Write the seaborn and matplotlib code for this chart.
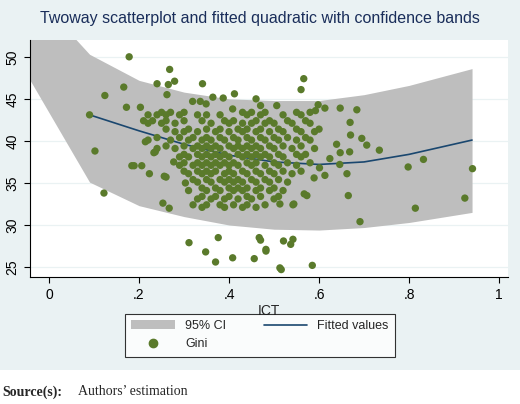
import numpy as np
import pandas as pd
import matplotlib
matplotlib.use("Agg")
import matplotlib.pyplot as plt
import seaborn as sns
from matplotlib.patches import Patch
from matplotlib.lines import Line2D

# confidence band and fitted line
band_x = [-0.042, 0.09, 0.2, 0.3, 0.4, 0.5, 0.6, 0.7, 0.8, 0.94]
band_lo = [47.2, 35.1, 32.3, 31.0, 30.0, 29.5, 29.4, 29.7, 30.3, 31.5]
band_hi = [58.0, 50.3, 47.2, 45.8, 45.0, 44.8, 44.8, 45.5, 46.6, 48.6]
fit_x = [0.09, 0.2, 0.3, 0.4, 0.5, 0.6, 0.7, 0.8, 0.94]
fit_y = [43.1, 41.2, 39.6, 38.3, 37.5, 37.2, 37.5, 38.4, 40.1]

# sparse scatter points (ICT, Gini)
sparse_x = [0.178, 0.268, 0.279, 0.240, 0.265, 0.341, 0.166, 0.124, 0.412, 0.172, 0.090, 0.102,
            0.122, 0.184, 0.189, 0.206, 0.223, 0.256, 0.260, 0.253, 0.267, 0.311, 0.376, 0.348,
            0.370, 0.408, 0.456, 0.467, 0.482, 0.513, 0.303, 0.277, 0.233, 0.236, 0.214, 0.203,
            0.319, 0.336, 0.349, 0.364, 0.387, 0.460, 0.470, 0.506, 0.408, 0.262,
            0.566, 0.560, 0.598, 0.592, 0.613, 0.647, 0.684, 0.669, 0.670, 0.695, 0.706, 0.734,
            0.639, 0.647, 0.668, 0.624, 0.646, 0.662, 0.601, 0.613, 0.589, 0.665, 0.691, 0.798,
            0.832, 0.941, 0.924, 0.814, 0.567, 0.573, 0.542, 0.544, 0.513, 0.521, 0.542, 0.537,
            0.482, 0.516, 0.585, 0.470]
sparse_y = [50.0, 48.5, 47.1, 46.8, 46.7, 46.8, 46.4, 45.4, 45.6, 44.0, 43.1, 38.8,
            33.8, 37.05, 37.05, 37.05, 36.1, 35.8, 35.7, 32.6, 32.0, 27.9, 28.5, 26.8,
            25.6, 26.1, 26.0, 28.5, 27.1, 24.9, 35.0, 37.5, 38.6, 38.7, 39.9, 44.0,
            44.7, 44.7, 44.4, 45.2, 45.1, 45.0, 44.2, 44.2, 43.8, 45.5,
            47.4, 46.1, 44.3, 43.6, 43.9, 43.9, 43.7, 42.2, 40.7, 40.3, 39.5, 38.9,
            39.6, 38.6, 38.7, 37.9, 37.2, 36.1, 36.8, 35.9, 35.6, 33.5, 30.4, 36.9,
            37.8, 36.7, 33.2, 32.0, 33.7, 33.5, 32.4, 32.5, 32.5, 28.1, 28.3, 27.7,
            26.9, 24.7, 25.2, 28.2]

# dense cluster: (Gini level, ICT values)
cluster_rows = [
    (43.4, [0.25, 0.27, 0.30, 0.43, 0.45, 0.48, 0.55, 0.58]),
    (43.1, [0.22, 0.24, 0.26, 0.29, 0.33, 0.35, 0.38, 0.44, 0.47, 0.52, 0.56]),
    (42.4, [0.21, 0.23, 0.26, 0.30, 0.34, 0.39, 0.41, 0.46, 0.49, 0.53, 0.57]),
    (42.1, [0.22, 0.25, 0.28, 0.36, 0.40, 0.43, 0.45, 0.48, 0.50, 0.54, 0.58]),
    (41.4, [0.26, 0.31, 0.35, 0.38, 0.42, 0.44, 0.47, 0.51, 0.55, 0.60]),
    (41.1, [0.28, 0.30, 0.33, 0.37, 0.40, 0.43, 0.46, 0.49, 0.52, 0.56, 0.59]),
    (40.4, [0.24, 0.29, 0.32, 0.35, 0.38, 0.41, 0.44, 0.47, 0.50, 0.53, 0.57]),
    (40.1, [0.22, 0.27, 0.31, 0.34, 0.36, 0.39, 0.42, 0.45, 0.48, 0.51, 0.55, 0.58]),
    (39.4, [0.26, 0.30, 0.33, 0.35, 0.37, 0.40, 0.42, 0.44, 0.46, 0.49, 0.52, 0.56]),
    (39.1, [0.24, 0.28, 0.32, 0.34, 0.36, 0.38, 0.41, 0.43, 0.45, 0.47, 0.50, 0.54, 0.59]),
    (38.4, [0.30, 0.33, 0.35, 0.37, 0.39, 0.42, 0.44, 0.46, 0.48, 0.51, 0.55, 0.57]),
    (38.1, [0.29, 0.31, 0.34, 0.36, 0.38, 0.40, 0.43, 0.45, 0.47, 0.49, 0.52, 0.56]),
    (37.4, [0.30, 0.33, 0.35, 0.37, 0.39, 0.41, 0.44, 0.46, 0.50, 0.53, 0.58]),
    (37.1, [0.29, 0.32, 0.34, 0.36, 0.38, 0.40, 0.42, 0.45, 0.48, 0.51, 0.55]),
    (36.4, [0.30, 0.33, 0.35, 0.37, 0.40, 0.43, 0.46, 0.49, 0.52, 0.56]),
    (36.1, [0.31, 0.34, 0.36, 0.39, 0.41, 0.44, 0.47, 0.50, 0.54]),
    (35.4, [0.32, 0.35, 0.38, 0.40, 0.42, 0.45, 0.48, 0.51]),
    (35.1, [0.33, 0.36, 0.39, 0.41, 0.43, 0.46, 0.49, 0.53]),
    (34.4, [0.34, 0.37, 0.40, 0.42, 0.44, 0.47, 0.50]),
    (34.1, [0.31, 0.35, 0.38, 0.41, 0.43, 0.46, 0.49, 0.52]),
    (33.4, [0.34, 0.37, 0.40, 0.44, 0.47, 0.51]),
    (33.1, [0.33, 0.36, 0.39, 0.42, 0.45, 0.50]),
    (32.4, [0.32, 0.35, 0.38, 0.41, 0.44, 0.48]),
    (32.1, [0.34, 0.39, 0.43, 0.46]),
]

xs = list(sparse_x)
ys = list(sparse_y)
for gy, row in cluster_rows:
    xs += row
    ys += [gy] * len(row)
df = pd.DataFrame({"ICT": xs, "Gini": ys})
fit = pd.DataFrame({"ICT": fit_x, "Fitted": fit_y})

sns.set_style("white")
plt.rcParams["font.family"] = ["Liberation Sans", "DejaVu Sans"]

BG = "#EAF2F3"
fig = plt.figure(figsize=(5.2, 4.04), dpi=100)
fig.patch.set_facecolor("white")
fig.patches.append(plt.Rectangle((0, 0.084), 1, 0.916, transform=fig.transFigure,
                                 facecolor=BG, edgecolor="none", zorder=-10))
ax = fig.add_axes([0.058, 0.314, 0.919, 0.587])
ax.set_facecolor("white")

ax.fill_between(band_x, band_lo, band_hi, color="#BEBEBE", lw=0, zorder=1)
for t in [25, 30, 35, 40, 45, 50]:
    ax.axhline(t, color="#EAF2F3", lw=0.9, zorder=0.5)
sns.lineplot(data=fit, x="ICT", y="Fitted", ax=ax, color="#1A476F", lw=1.2, zorder=3)
sns.scatterplot(data=df, x="ICT", y="Gini", ax=ax, color="#5A7A2B", s=28,
                edgecolor="none", zorder=4)

ax.set_xlim(-0.042, 1.02)
ax.set_ylim(23.8, 52.0)
ax.set_xticks([0, 0.2, 0.4, 0.6, 0.8, 1])
ax.set_xticklabels(["0", ".2", ".4", ".6", ".8", "1"])
ax.set_yticks([25, 30, 35, 40, 45, 50])
ax.set_yticklabels(["25", "30", "35", "40", "45", "50"], rotation=90, va="center")
ax.tick_params(axis="both", length=4, labelsize=10, colors="black", direction="out",
               bottom=True, left=True, width=0.8)
for s in ["top", "right"]:
    ax.spines[s].set_visible(False)
for s in ["left", "bottom"]:
    ax.spines[s].set_color("black")
    ax.spines[s].set_linewidth(0.8)
ax.set_xlabel("ICT", fontsize=10, labelpad=2)
ax.set_ylabel("")

fig.text(0.5, 0.955, "Twoway scatterplot and fitted quadratic with confidence bands",
         ha="center", va="center", fontsize=11.5, color="#1A2E5A")

handles = [Patch(facecolor="#BEBEBE", edgecolor="none", label="95% CI"),
           Line2D([], [], marker="o", ls="none", color="#5A7A2B", markersize=6, label="Gini"),
           Line2D([], [], color="#1A476F", lw=1.2, label="Fitted values")]
leg = fig.legend(handles=handles, loc="center", bbox_to_anchor=(0.5, 0.17), ncol=2,
                 frameon=True, fontsize=9, fancybox=False, edgecolor="black",
                 handlelength=3.5, columnspacing=3, borderpad=0.5)
leg.get_frame().set_linewidth(0.8)

fig.text(0.005, 0.03, "Source(s):", fontsize=10, family="Liberation Serif",
         fontweight="bold", va="center")
fig.text(0.15, 0.03, "Authors’ estimation", fontsize=10, family="Liberation Serif",
         va="center")
fig.savefig("out.png", dpi=100, facecolor=fig.get_facecolor())
